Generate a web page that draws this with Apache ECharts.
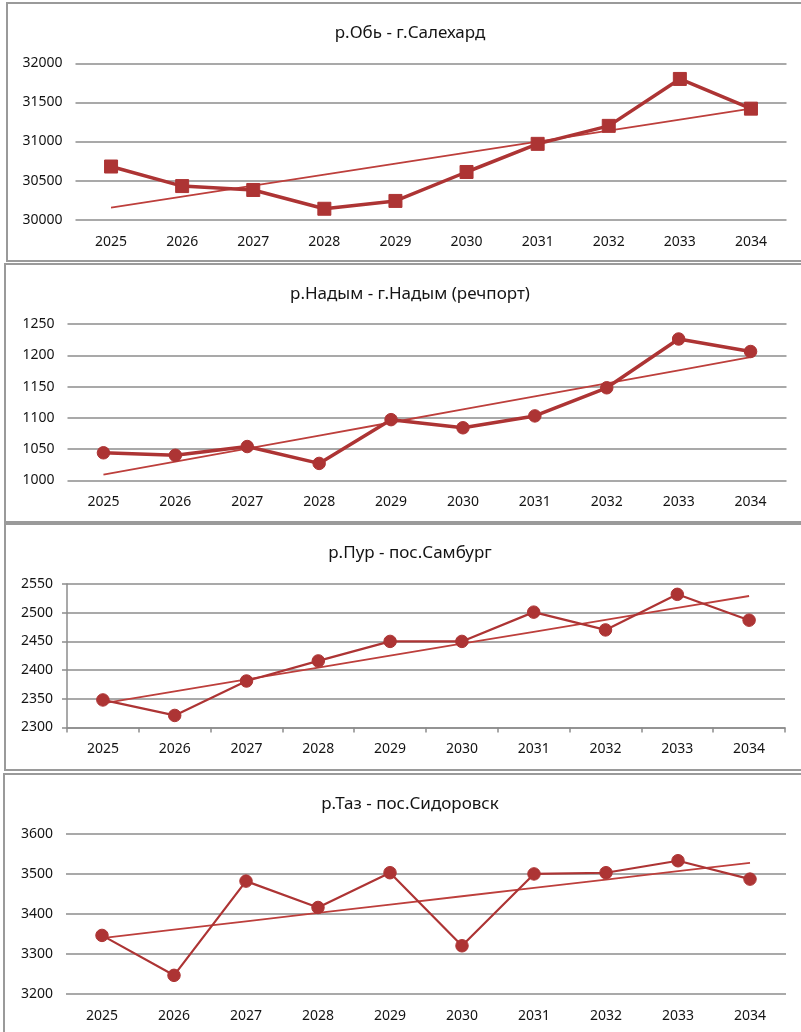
<!DOCTYPE html>
<html>
<head>
<meta charset="utf-8">
<script src="https://cdn.jsdelivr.net/npm/echarts@6/dist/echarts.min.js"></script>
<style>
  html, body { margin: 0; padding: 0; background: #fff; }
  #chart { width: 801px; height: 1032px; }
</style>
</head>
<body>
<div id="chart"></div>
<script>
// Forecast years shared by all four gauging stations
const years = ['2025', '2026', '2027', '2028', '2029', '2030', '2031', '2032', '2033', '2034'];

// Station titles
const titles = [
  'р.Обь - г.Салехард',
  'р.Надым - г.Надым (речпорт)',
  'р.Пур - пос.Самбург',
  'р.Таз - пос.Сидоровск'
];

// Series values per station
const obValues     = [30680, 30430, 30380, 30140, 30240, 30610, 30970, 31200, 31800, 31420];
const nadymValues  = [1044, 1040, 1054, 1027, 1097, 1084, 1103, 1148, 1226, 1206];
const purValues    = [2348, 2321, 2381, 2416, 2450, 2450, 2501, 2470, 2532, 2487];
const tazValues    = [3346, 3246, 3482, 3416, 3503, 3320, 3500, 3503, 3533, 3487];

// Value-axis ranges: [min, max, step]
const obTicks    = [30000, 32000, 500];
const nadymTicks = [1000, 1250, 50];
const purTicks   = [2300, 2550, 50];
const tazTicks   = [3200, 3600, 100];

const seriesValues = [obValues, nadymValues, purValues, tazValues];
const tickRanges = [obTicks, nadymTicks, purTicks, tazTicks];

// Linear least-squares trend, evaluated at every category
function linearTrend(vals) {
  const n = vals.length;
  let sx = 0, sy = 0, sxx = 0, sxy = 0;
  vals.forEach((v, i) => { sx += i; sy += v; sxx += i * i; sxy += i * v; });
  const slope = (n * sxy - sx * sy) / (n * sxx - sx * sx);
  const icpt = (sy - slope * sx) / n;
  return vals.map((_, i) => +(icpt + slope * i).toFixed(2));
}

const FONT = 'Noto Sans';
const TEXT = '#141414';
const RED = '#ad3434';
const TREND = '#bd3f3c';
const GRID = '#8c8c8c';

// Panel layouts (page pixels)
const panels = [
  { box: [7, 3, 820, 258],   grid: { left: 75.5, top: 63.3, width: 711, height: 156.4 }, titleY: 20,  symbol: 'rect',   symbolSize: 13, lw: 3.5, axisLine: false },
  { box: [5, 264, 820, 258], grid: { left: 67.5, top: 324,  width: 719, height: 156.3 }, titleY: 281, symbol: 'circle', symbolSize: 12.5, lw: 3.5, axisLine: false },
  { box: [5, 524, 820, 246], grid: { left: 67,   top: 584,  width: 718, height: 143.5 }, titleY: 540, symbol: 'circle', symbolSize: 12.5, lw: 2.2, axisLine: true },
  { box: [4, 774, 820, 280], grid: { left: 66,   top: 834,  width: 720, height: 159.7 }, titleY: 791, symbol: 'circle', symbolSize: 12.5, lw: 2.2, axisLine: false }
];

const option = {
  animation: false,
  backgroundColor: '#fff',
  textStyle: { fontFamily: FONT },
  title: panels.map((p, i) => ({
    text: titles[i],
    left: 405,
    textAlign: 'center',
    top: p.titleY,
    textStyle: { fontFamily: FONT, fontSize: 17, fontWeight: 'normal', color: TEXT }
  })),
  graphic: panels.map(p => ({
    type: 'rect',
    shape: { x: p.box[0], y: p.box[1], width: p.box[2], height: p.box[3] },
    style: { fill: 'none', stroke: '#9a9a9a', lineWidth: 2 },
    silent: true
  })),
  grid: panels.map(p => Object.assign({ containLabel: false }, p.grid)),
  xAxis: panels.map((p, i) => ({
    type: 'category',
    gridIndex: i,
    data: years,
    boundaryGap: true,
    axisLine: { show: p.axisLine, lineStyle: { color: GRID, width: 1.5 } },
    axisTick: { show: p.axisLine, length: 5, lineStyle: { color: GRID, width: 1.5 } },
    axisLabel: { color: TEXT, fontFamily: FONT, fontSize: 14, margin: 15 },
    splitLine: { show: false }
  })),
  yAxis: panels.map((p, i) => ({
    type: 'value',
    gridIndex: i,
    min: tickRanges[i][0],
    max: tickRanges[i][1],
    interval: tickRanges[i][2],
    axisLine: { show: p.axisLine, lineStyle: { color: GRID, width: 1.5 } },
    axisTick: { show: p.axisLine, length: 5, lineStyle: { color: GRID, width: 1.5 } },
    axisLabel: {
      color: TEXT, fontFamily: FONT, fontSize: 14,
      margin: p.axisLine ? 14 : 13,
      formatter: v => String(v)
    },
    splitLine: { show: true, lineStyle: { color: GRID, width: 1.5 } }
  })),
  series: []
};

panels.forEach((p, i) => {
  option.series.push({
    type: 'line',
    name: 'trend',
    xAxisIndex: i,
    yAxisIndex: i,
    data: linearTrend(seriesValues[i]),
    showSymbol: false,
    symbol: 'none',
    lineStyle: { color: TREND, width: 1.8 },
    z: 2
  });
  option.series.push({
    type: 'line',
    name: titles[i],
    xAxisIndex: i,
    yAxisIndex: i,
    data: seriesValues[i],
    symbol: p.symbol,
    symbolSize: p.symbolSize,
    showAllSymbol: true,
    itemStyle: { color: RED, borderColor: RED },
    lineStyle: { color: RED, width: p.lw },
    z: 3
  });
});

const chart = echarts.init(document.getElementById('chart'), null, { renderer: 'canvas' });
chart.setOption(option);
</script>
</body>
</html>
